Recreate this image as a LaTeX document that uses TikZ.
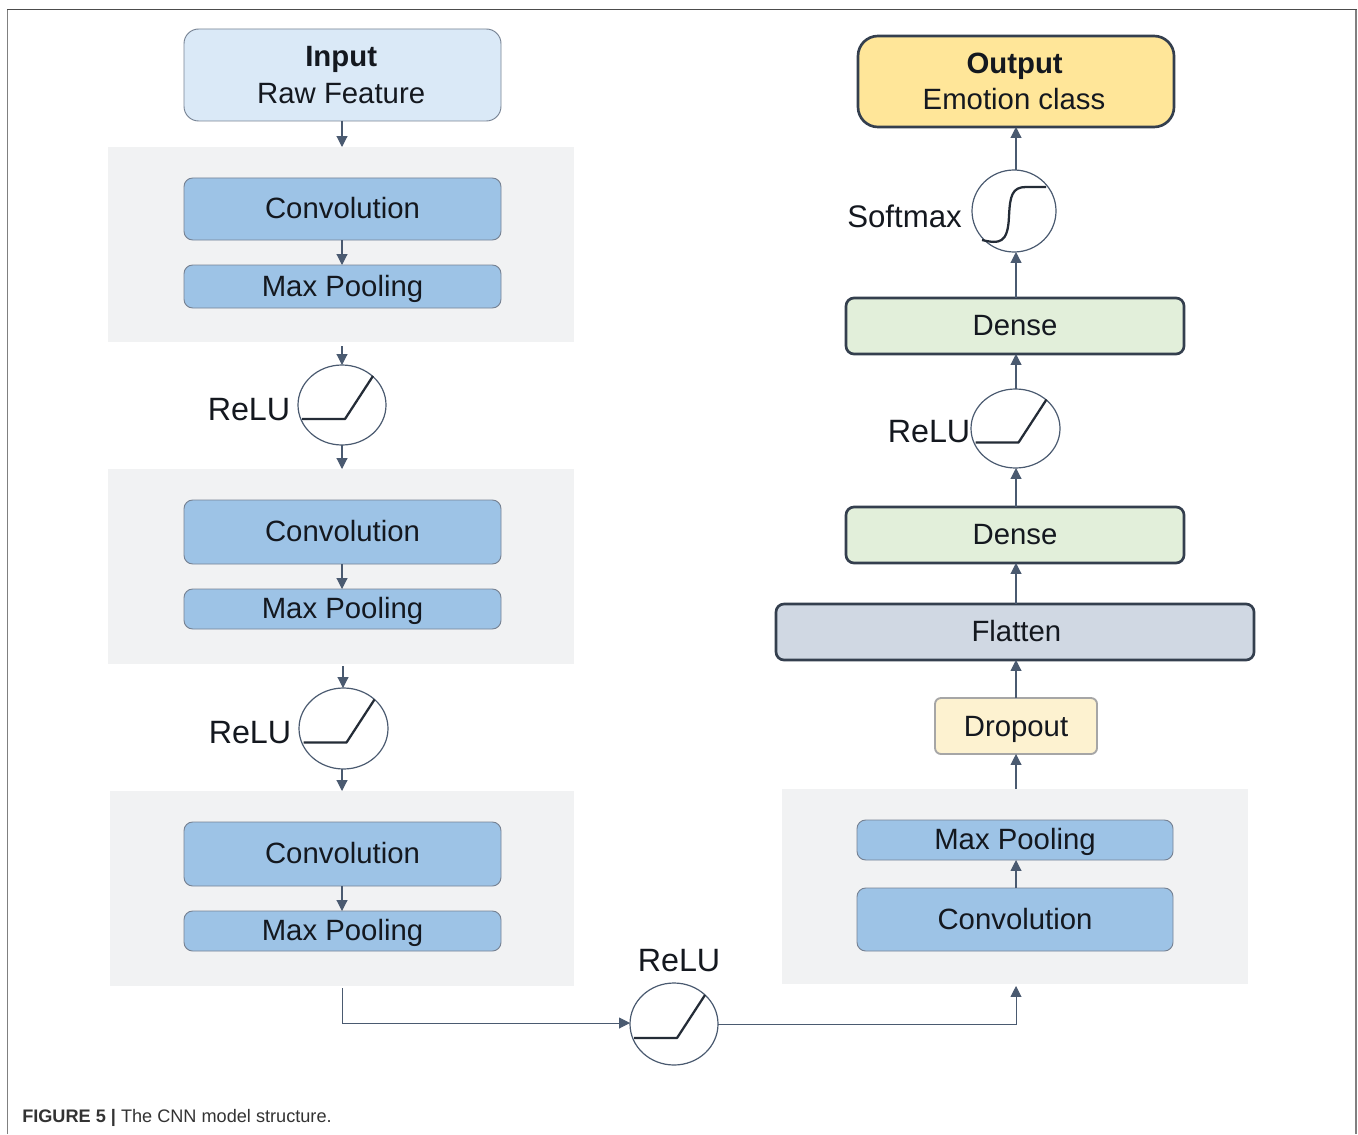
\documentclass[tikz,border=0pt]{standalone}
\usepackage{fontspec}
\setmainfont{Liberation Sans}
\usetikzlibrary{arrows.meta,shapes.geometric,calc}
\definecolor{linec}{HTML}{4A5A70}
\definecolor{blueb}{HTML}{9DC3E6}
\definecolor{lblue}{HTML}{DAE9F7}
\definecolor{panel}{HTML}{F1F2F3}
\definecolor{gold}{HTML}{FFE699}
\definecolor{lgreen}{HTML}{E2EFDA}
\definecolor{slate}{HTML}{D0D8E3}
\definecolor{cream}{HTML}{FDF2D0}
\definecolor{ink}{HTML}{14181F}
\tikzset{
  x=0.75pt,y=-0.75pt,
  sz/.style n args={2}{minimum width=#1*0.75pt,minimum height=#2*0.75pt,inner sep=0pt,outer sep=0pt},
  lab/.style={font=\fontsize{22}{27}\selectfont,text=ink,align=center},
  oneline/.style={text height=15.8pt,text depth=1.2pt},
  biglab/.style={font=\fontsize{24.2}{27}\selectfont,text=ink},
  softbox/.style={lab,rectangle,rounded corners=7.5pt,draw=linec!75,line width=0.7pt},
  blockbox/.style={softbox,oneline,fill=blueb,rounded corners=6.5pt},
  heavybox/.style={lab,rectangle,draw=linec!70!black,line width=2pt,rounded corners=6pt},
  panelbox/.style={fill=panel,draw=none,inner sep=0pt,outer sep=0pt},
  func/.style={ellipse,draw=linec,fill=white,line width=0.9pt,sz={#1},inner sep=0pt},
  arr/.style={draw=linec,line width=0.85pt,-{Triangle[length=8.2pt,width=8.2pt]}},
  curve/.style={draw=ink!70!linec,line width=1.7pt,line join=round},
}
\begin{document}
\begin{tikzpicture}
\useasboundingbox (0,0) rectangle (1358,1134);
\fill[white] (0,0) rectangle (1358,1134);
% frame
\draw[draw=black!50,line width=1.4pt] (7.5,1134) -- (7.5,9.5) (1356,9.5) -- (1356,1134);
\draw[draw=black!70,line width=1.1pt] (7,9.5) -- (1356.5,9.5);
% panels
\node[panelbox,sz={466}{195}] (bg1) at (341,244.5) {};
\node[panelbox,sz={466}{195}] (bg2) at (341,566.5) {};
\node[panelbox,sz={464}{195}] (bg3) at (342,888.5) {};
\node[panelbox,sz={466}{195}] (bg4) at (1015,886.5) {};
% left column
\node[softbox,fill=lblue,sz={317}{92},rounded corners=11pt] (input) at (342.5,75) {\textbf{Input}\hspace*{2pt}\\[1pt]Raw Feature\hspace*{2pt}};
\node[blockbox,sz={317}{62}] (conv1) at (342.5,209) {Convolution};
\node[blockbox,sz={317}{43}] (pool1) at (342.5,286.5) {Max Pooling};
\node[blockbox,sz={317}{64}] (conv2) at (342.5,532) {Convolution};
\node[blockbox,sz={317}{40}] (pool2) at (342.5,609) {Max Pooling};
\node[blockbox,sz={317}{64}] (conv3) at (342.5,854) {Convolution};
\node[blockbox,sz={317}{40}] (pool3) at (342.5,931) {Max Pooling};
% right column
\node[blockbox,sz={316}{63}] (conv4) at (1015,919.5) {Convolution};
\node[blockbox,sz={316}{40}] (pool4) at (1015,840) {Max Pooling};
\node[lab,rectangle,rounded corners=4.5pt,draw=black!35,line width=1.4pt,fill=cream,sz={162}{56},text height=15.8pt,text depth=0pt] (drop) at (1016,726) {Dropout};
\node[heavybox,oneline,fill=slate,sz={478}{56}] (flat) at (1015,632) {\hspace*{2pt}Flatten};
\node[heavybox,oneline,fill=lgreen,sz={338}{56}] (dense1) at (1015,535) {Dense};
\node[heavybox,oneline,fill=lgreen,sz={338}{56}] (dense2) at (1015,326) {Dense};
\node[heavybox,fill=gold,rounded corners=15pt,sz={316}{91}] (output) at (1016,81.5) {\textbf{Output}\hspace*{2pt}\\Emotion class\hspace*{3pt}};
% activation functions
\node[func={88}{80}] (relu1) at (342,405) {};
\node[func={89}{81}] (relu2) at (343.5,728.5) {};
\node[func={88}{82}] (relu3) at (674,1024) {};
\node[func={89}{79}] (relu4) at (1015.5,428.5) {};
\node[func={84}{82}] (soft) at (1014,211) {};
\foreach \n in {relu1,relu2,relu3,relu4}
  \draw[curve] ($(\n.center)+(-40,14)$) -- ($(\n.center)+(3,14)$) -- ($(\n.center)+(31,-29)$);
\draw[curve] ($(soft.center)+(-32,29)$) .. controls ($(soft.center)+(-15,33)$) and ($(soft.center)+(-6,33)$) .. ($(soft.center)+(-5,5)$)
  .. controls ($(soft.center)+(-4,-15)$) and ($(soft.center)+(-2,-24)$) .. ($(soft.center)+(12,-24)$) -- ($(soft.center)+(32,-24)$);
% labels
\node[biglab] (l1) at (249,410) {ReLU};
\node[biglab] (l2) at (250,733) {ReLU};
\node[biglab] (l3) at (679,961) {ReLU};
\node[biglab] (l4) at (929,432) {ReLU};
\node[font=\fontsize{23.4}{27}\selectfont,text=ink] (l5) at (904.5,216) {Softmax};
\node[anchor=west,inner sep=0pt,text=black!80,font=\fontsize{13.6}{16}\selectfont] (cap) at (22,1117.5) {\textbf{FIGURE 5 |} The CNN model structure.};
% free ends
\coordinate (s1) at (342,346);
\coordinate (s2) at (343,666);
\coordinate (s3) at (342,988);
\coordinate (e4) at (1016,986);
\coordinate (bend1) at (342,1023);
% connectors, left
\draw[arr] (input.south -| s1) -- (s1 |- bg1.north);
\draw[arr] (conv1.south -| s1) -- (s1 |- pool1.north);
\draw[arr] (s1) -- (relu1.north);
\draw[arr] (relu1.south) -- (s1 |- bg2.north);
\draw[arr] (conv2.south -| s1) -- (s1 |- pool2.north);
\draw[arr] (s2) -- (relu2.north -| s2);
\draw[arr] (relu2.south -| s1) -- (s1 |- bg3.north);
\draw[arr] (conv3.south -| s1) -- (s1 |- pool3.north);
\draw[arr,line width=0.7pt] (s3) -- (bend1) -- (relu3.west |- bend1);
\draw[arr,line width=0.7pt] (relu3.east) -- (relu3.east -| e4) -- (e4);
% connectors, right
\draw[arr] (conv4.north -| e4) -- (e4 |- pool4.south);
\draw[arr] (bg4.north -| e4) -- (drop.south -| e4);
\draw[arr] (drop.north -| e4) -- (flat.south -| e4);
\draw[arr] (flat.north -| e4) -- (dense1.south -| e4);
\draw[arr] (dense1.north -| e4) -- (relu4.south -| e4);
\draw[arr] (relu4.north -| e4) -- (dense2.south -| e4);
\draw[arr] (dense2.north -| e4) -- (soft.south -| e4);
\draw[arr] (soft.north -| e4) -- (output.south -| e4);
\end{tikzpicture}
\end{document}
